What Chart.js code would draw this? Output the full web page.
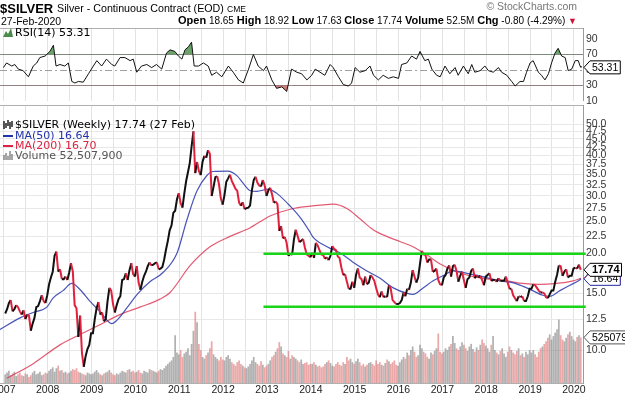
<!DOCTYPE html>
<html><head><meta charset="utf-8">
<script src="https://cdn.jsdelivr.net/npm/chart.js@4.4.1/dist/chart.umd.min.js"></script>
<style>
html,body{margin:0;padding:0;background:#fff}
body{width:625px;height:397px;position:relative;overflow:hidden;font-family:"Liberation Sans",Arial,sans-serif;color:#000}
canvas{position:absolute;left:0;top:0}
.t{position:absolute;white-space:nowrap;line-height:1}
.lg{position:absolute;left:3px;font-family:"DejaVu Sans",sans-serif;font-size:11px;white-space:nowrap;line-height:11px}
.lg svg{vertical-align:-1px;margin-right:2px}
</style></head><body>
<canvas id="rsi" width="625" height="110"></canvas>
<canvas id="price" width="625" height="397"></canvas>
<div class="t" style="left:0px;top:2px;font-size:13px;font-weight:bold">$SILVER</div>
<div class="t" style="left:57px;top:3px;font-size:10.7px">Silver - Continuous Contract (EOD)</div>
<div class="t" style="left:227px;top:5px;font-size:8.5px">CME</div>
<div class="t" style="right:48px;top:1px;font-size:10.5px;color:#777">© StockCharts.com</div>
<div class="t" style="left:1px;top:16px;font-size:10.5px">27-Feb-2020</div>
<div class="t" style="right:48px;top:15px;font-size:10px"><b style="font-size:11px">Open</b> 18.65 <b style="font-size:11px">High</b> 18.92 <b style="font-size:11px">Low</b> 17.63 <b style="font-size:11px">Close</b> 17.74 <b style="font-size:11px">Volume</b> 52.5M <b style="font-size:11px">Chg</b> -0.80 (-4.29%) <span style="color:#d01030;font-size:9px">▼</span></div>
<div class="lg" style="top:27px"><svg width="10" height="9"><path d="M0 9 L3 3 L5 6 L8 0 L10 9 Z" fill="#4a8a4a"/></svg>RSI(14) 53.31</div>
<div class="lg" style="top:119px"><svg width="10" height="9"><path d="M1 1V9M3 3V8M5 0V6M7 2V9M9 1V7" stroke="#000" stroke-width="1.3"/></svg>$SILVER (Weekly) 17.74 (27 Feb)</div>
<div class="lg" style="top:130px;color:#2233aa"><svg width="10" height="9"><path d="M0 5H10" stroke="#2233aa" stroke-width="2"/></svg>MA(50) 16.64</div>
<div class="lg" style="top:140px;color:#dd2244"><svg width="10" height="9"><path d="M0 5H10" stroke="#dd2244" stroke-width="2"/></svg>MA(200) 16.70</div>
<div class="lg" style="top:150px;color:#555"><svg width="10" height="9"><path d="M1 4V9M3 2V9M5 5V9M7 0V9M9 3V9" stroke="#777" stroke-width="1.3"/></svg>Volume 52,507,900</div>
<script>
// ---- time axis ----
const xMin = 2006.912, xMax = 2020.207;
const yearLabels = [2007,2008,2009,2010,2011,2012,2013,2014,2015,2016,2017,2018,2019,2020];

// ---- weekly close, sampled twice a month (USD/oz) ----
const silver2007 = [13.0,13.4,14.0,14.3,13.2,13.4,13.8,13.6,13.2,12.9,13.3,12.5,12.9,12.8,11.5,12.1,12.6,13.6,13.7,14.2,14.8,14.2,14.0,14.8];
const silver2008 = [16.0,16.8,17.5,19.6,20.2,17.5,17.8,16.6,16.6,16.9,16.5,17.4,18.6,17.5,13.8,13.5,11.0,12.8,9.8,8.9,9.6,10.1,10.4,11.3];
const silver2009 = [11.3,12.5,13.5,14.1,12.9,13.1,12.3,12.5,14.2,15.6,15.3,13.9,13.1,13.8,14.4,14.7,16.5,16.6,17.3,16.5,17.7,18.6,17.2,16.9];
const silver2010 = [18.2,16.2,15.4,16.3,17.0,17.5,18.2,18.7,18.3,18.4,18.6,18.7,17.8,17.9,18.1,19.1,20.5,21.8,23.5,24.3,26.6,27.0,29.3,30.6];
const silver2011 = [28.5,27.6,30.5,33.3,35.5,37.9,42.7,47.5,35.3,38.2,35.8,34.8,38.3,39.9,39.4,41.5,40.5,30.0,32.0,34.3,34.5,32.6,29.5,28.2];
const silver2012 = [30.2,33.2,34.0,34.9,33.4,32.5,31.6,31.1,28.6,28.0,28.7,27.3,27.5,27.6,28.0,31.2,33.6,34.4,33.0,32.3,32.1,33.6,32.3,30.0];
const silver2013 = [31.2,31.8,30.4,28.6,28.8,28.3,23.4,24.2,22.2,22.4,21.5,19.6,19.9,19.7,22.0,23.6,22.6,21.6,21.8,22.1,20.8,19.8,19.6,19.4];
const silver2014 = [20.0,19.3,21.5,21.1,20.4,19.8,19.7,19.2,19.4,19.0,19.6,21.0,20.6,20.4,19.5,19.3,18.0,17.1,17.2,16.3,15.5,15.5,16.3,15.6];
const silver2015 = [17.1,17.9,16.8,16.6,15.9,16.9,16.0,16.2,17.1,16.8,16.4,15.6,14.9,14.6,15.2,14.6,14.7,14.6,15.9,15.5,14.3,14.1,13.9,13.9];
const silver2016 = [14.0,14.3,15.1,14.7,15.5,15.4,16.2,17.7,16.9,16.2,16.8,18.5,20.3,19.8,19.7,18.7,19.1,19.1,17.5,17.6,17.9,16.5,16.0,15.9];
const silver2017 = [16.8,17.1,17.9,18.3,16.9,18.2,18.4,17.6,16.3,17.0,17.5,16.5,15.6,16.6,16.8,17.6,17.9,16.7,17.1,16.8,17.0,16.5,15.9,16.9];
const silver2018 = [17.1,17.3,16.4,16.5,16.5,16.3,16.7,16.4,16.4,16.4,16.9,16.2,15.5,15.5,14.8,14.5,14.2,14.7,14.6,14.7,14.2,14.2,14.7,15.5];
const silver2019 = [15.5,16.0,15.9,15.6,15.3,15.1,15.1,15.0,14.6,14.5,14.9,15.3,15.3,16.3,17.1,18.3,18.2,17.0,17.5,17.8,16.8,17.0,17.0,17.9];
const silver2020 = [18.0,17.9,18.4,17.74];

// ---- volume (millions), same sampling ----
const vol2007 = [10,12,14,9,11,13,8,10,12,9,8,11,10,7,9,12,14,10,11,13,9,10,12,11];
const vol2008 = [14,16,18,13,17,20,14,15,12,13,11,12,14,16,15,17,13,12,11,10,9,12,11,10];
const vol2009 = [11,13,15,12,10,9,11,12,13,15,12,10,9,11,10,12,14,13,12,15,16,13,14,12];
const vol2010 = [13,15,12,11,14,13,12,16,15,14,13,12,14,16,15,17,20,22,24,26,30,55,35,33];
const vol2011 = [38,30,34,36,40,32,45,60,82,70,45,38,30,28,32,35,40,48,33,30,28,26,30,27];
const vol2012 = [26,30,32,28,24,22,20,24,26,22,20,18,17,19,22,26,30,24,22,20,25,21,18,20];
const vol2013 = [22,26,30,32,36,40,47,42,34,32,30,37,28,32,30,28,26,24,27,22,23,24,21,22];
const vol2014 = [22,24,21,19,20,18,19,22,24,26,23,20,19,22,24,21,20,24,22,30,26,28,24,22];
const vol2015 = [25,28,24,20,22,19,21,23,24,22,20,26,22,24,21,20,23,27,25,22,24,26,21,20];
const vol2016 = [24,27,30,28,35,32,38,42,36,30,32,44,40,36,34,30,28,35,33,37,40,57,36,34];
const vol2017 = [36,40,38,42,45,54,46,40,38,42,47,44,40,37,42,45,39,36,41,38,44,50,46,43];
const vol2018 = [40,36,44,54,38,35,33,37,40,34,30,36,42,38,35,33,37,40,32,34,30,36,33,38];
const vol2019 = [35,38,33,30,36,40,42,45,48,52,56,50,54,58,62,73,55,50,48,52,56,59,54,50];
const vol2020 = [48,53,55,52.5];

// ---- moving averages ----
const ma50Date  = [2006.91,2007.37,2007.67,2007.98,2008.12,2008.35,2008.55,2008.74,2008.96,2009.19,2009.46,2009.58,2009.8,2010.04,2010.33,2010.63,2010.95,2011.17,2011.4,2011.63,2011.77,2012.11,2012.32,2012.46,2012.61,2012.77,2013.03,2013.23,2013.53,2013.76,2013.99,2014.05,2014.37,2014.67,2014.97,2015.28,2015.58,2015.88,2016.2,2016.33,2016.56,2016.79,2017.01,2017.25,2017.56,2017.92,2018.31,2018.6,2018.83,2019.06,2019.29,2019.45,2019.68,2019.91,2020.13,2020.16];
const ma50Value = [11.6,12.6,13.1,13.6,14.5,15.3,16.1,15.4,14.2,13.2,12.1,12.4,13.5,14.9,16.3,17.4,20.0,25.2,31.0,34.7,35.7,35.8,34.6,32.8,31.2,31.0,31.5,30.5,27.9,25.7,23.1,22.4,20.9,20.0,18.7,17.6,16.7,15.6,15.0,14.9,15.6,16.4,17.0,17.6,17.3,16.9,16.4,16.2,15.8,15.3,14.8,14.7,15.3,15.9,16.5,16.64];
const ma200Date  = [2007.07,2007.67,2008.28,2008.74,2009.19,2009.65,2010.1,2010.56,2010.79,2011.25,2011.7,2012.16,2012.61,2013.07,2013.53,2013.99,2014.21,2014.51,2014.83,2015.12,2015.42,2015.73,2016.03,2016.33,2016.65,2016.95,2017.33,2017.7,2018.08,2018.47,2018.83,2019.22,2019.6,2019.98,2020.16];
const ma200Value = [8.2,9.1,10.4,11.2,12.0,12.9,13.6,14.4,15.1,18.3,20.9,22.5,23.9,26.0,27.3,27.9,28.1,28.3,27.4,25.5,23.6,22.5,21.7,20.9,19.7,18.5,17.5,16.9,16.6,16.4,16.1,16.0,16.1,16.4,16.70];

// ---- RSI(14) ----
const rsiDate = [2006.99,2007.06,2007.18,2007.25,2007.33,2007.44,2007.56,2007.67,2007.75,2007.82,2007.94,2008.05,2008.13,2008.19,2008.28,2008.39,2008.47,2008.55,2008.62,2008.70,2008.81,2008.93,2009.04,2009.12,2009.23,2009.34,2009.46,2009.53,2009.65,2009.76,2009.88,2009.95,2010.03,2010.14,2010.26,2010.37,2010.48,2010.60,2010.71,2010.79,2010.90,2010.98,2011.06,2011.13,2011.21,2011.28,2011.34,2011.44,2011.55,2011.66,2011.74,2011.85,2011.97,2012.12,2012.23,2012.35,2012.46,2012.58,2012.69,2012.80,2012.92,2012.99,2013.11,2013.22,2013.34,2013.45,2013.56,2013.68,2013.79,2013.91,2014.02,2014.10,2014.21,2014.32,2014.44,2014.51,2014.63,2014.74,2014.86,2014.93,2015.01,2015.12,2015.24,2015.35,2015.43,2015.54,2015.65,2015.77,2015.88,2016.00,2016.07,2016.19,2016.30,2016.41,2016.49,2016.60,2016.68,2016.76,2016.87,2016.95,2017.06,2017.17,2017.29,2017.36,2017.48,2017.59,2017.67,2017.74,2017.86,2017.97,2018.05,2018.16,2018.28,2018.35,2018.47,2018.58,2018.66,2018.77,2018.85,2018.92,2019.00,2019.07,2019.19,2019.26,2019.34,2019.42,2019.49,2019.57,2019.64,2019.72,2019.80,2019.87,2019.95,2020.03,2020.10,2020.14,2020.16];
const rsiValue = [53,59,55,57,51,49,41,55,59,66,68,74,82,55,57,55,59,35,33,35,34,45,55,62,55,64,57,55,66,66,62,64,47,55,57,53,57,51,72,76,74,68,64,76,80,86,55,55,59,55,43,47,41,55,47,37,33,51,70,55,49,55,37,26,28,22,51,47,45,37,43,51,47,43,57,53,41,31,29,33,53,47,49,55,43,37,43,39,41,39,57,59,68,64,74,62,64,51,43,41,55,45,53,43,55,45,57,47,49,55,49,47,53,47,43,35,29,35,35,47,59,62,47,43,37,45,59,72,78,68,66,49,51,62,62,55,53.31];

// ---- support / resistance ----
const channelStart = 2012.92, channelEnd = 2020.27;
const resistance = 19.9, support = 13.65;

// ---- tick labels ----
const priceTicks = [10,12.5,15,17.5,20,22.5,25,27.5,30,32.5,35,37.5,40,42.5,45,47.5,50];
const rsiTicks = [10,30,50,70,90];

// ---- build tables ----
const priceByYear = [silver2007,silver2008,silver2009,silver2010,silver2011,silver2012,silver2013,silver2014,silver2015,silver2016,silver2017,silver2018,silver2019,silver2020];
const volByYear = [vol2007,vol2008,vol2009,vol2010,vol2011,vol2012,vol2013,vol2014,vol2015,vol2016,vol2017,vol2018,vol2019,vol2020];
const pricePts = [], volPts = [], volColors = [];
priceByYear.forEach((arr, k) => {
  arr.forEach((v, i) => {
    const x = yearLabels[k] + (i + 0.75) / 24;
    pricePts.push({x, y: v});
    volPts.push({x, y: volByYear[k][i]});
  });
});
for (let i = 0; i < pricePts.length; i++) {
  const up = i === 0 || pricePts[i].y >= pricePts[i-1].y;
  volColors.push(up ? 'rgba(140,140,140,0.68)' : 'rgba(222,115,115,0.62)');
}
const ma50Pts = ma50Date.map((d,i)=>({x:d,y:ma50Value[i]}));
const ma200Pts = ma200Date.map((d,i)=>({x:d,y:ma200Value[i]}));
const rsiPts = rsiDate.map((d,i)=>({x:d,y:rsiValue[i]}));

const halfYears = [];
for (let y = 2007; y <= 2020; y += 0.5) halfYears.push(y);

const FONT = '"Liberation Sans", Arial, sans-serif';

function xScale() {
  return {
    type: 'linear', min: xMin, max: xMax, offset: false,
    afterBuildTicks: s => { s.ticks = halfYears.map(v => ({value: v})); },
    afterFit: s => { s.height = 0; },
    ticks: {display: false},
    grid: {color: '#e3e3e3', drawTicks: false, lineWidth: 1, offset: false},
    border: {display: false}
  };
}

function drawTag(ctx, x, y, text, border, bold) {
  ctx.save();
  ctx.font = (bold ? 'bold 11px ' : '10.5px ') + FONT;
  const tw = ctx.measureText(text).width;
  const h = 13, p = 6;
  ctx.beginPath();
  ctx.moveTo(x + 1, y);
  ctx.lineTo(x + 1 + p, y - h/2);
  ctx.lineTo(x + 1 + p + tw + 4, y - h/2);
  ctx.lineTo(x + 1 + p + tw + 4, y + h/2);
  ctx.lineTo(x + 1 + p, y + h/2);
  ctx.closePath();
  ctx.fillStyle = '#fff'; ctx.fill();
  ctx.lineWidth = 1; ctx.strokeStyle = border; ctx.stroke();
  ctx.fillStyle = '#000'; ctx.textBaseline = 'middle'; ctx.textAlign = 'left';
  ctx.fillText(text, x + 1 + p + 2, y + 0.5);
  ctx.restore();
}

// ---- RSI chart ----
const rsiExtras = {
  id: 'rsiExtras',
  beforeDatasetsDraw(chart) {
    const {ctx, chartArea: a, scales: {y}} = chart;
    ctx.save();
    ctx.strokeStyle = '#8a8a8a'; ctx.lineWidth = 1;
    [30, 70].forEach(v => {
      const py = Math.round(y.getPixelForValue(v)) + 0.5;
      ctx.beginPath(); ctx.moveTo(a.left, py); ctx.lineTo(a.right, py); ctx.stroke();
    });
    ctx.strokeStyle = '#a0a0a0'; ctx.setLineDash([7,3,2,3]);
    const p50 = Math.round(y.getPixelForValue(50)) + 0.5;
    ctx.beginPath(); ctx.moveTo(a.left, p50); ctx.lineTo(a.right, p50); ctx.stroke();
    ctx.setLineDash([]);
    ctx.strokeStyle = '#b0b0b0';
    ctx.beginPath(); ctx.moveTo(a.left, a.top + 0.5); ctx.lineTo(a.right, a.top + 0.5); ctx.stroke();
    ctx.restore();
  },
  afterDraw(chart) {
    const {ctx, chartArea: a, scales: {y}} = chart;
    drawTag(ctx, a.right, y.getPixelForValue(rsiValue[rsiValue.length-1]), '53.31', '#000', false);
  }
};

new Chart(document.getElementById('rsi'), {
  type: 'line',
  data: {datasets: [
    {data: rsiPts, borderColor: '#111', borderWidth: 1, pointRadius: 0, tension: 0,
     fill: {target: {value: 70}, above: 'rgba(70,140,70,0.8)', below: 'rgba(0,0,0,0)'}},
    {data: rsiPts, borderColor: 'rgba(0,0,0,0)', borderWidth: 0, pointRadius: 0, tension: 0,
     fill: {target: {value: 30}, above: 'rgba(0,0,0,0)', below: 'rgba(190,90,90,0.8)'}}
  ]},
  options: {
    responsive: false, animation: false, events: [], devicePixelRatio: 1,
    layout: {padding: {top: 28, bottom: 4.6, left: 0, right: 0}},
    plugins: {legend: {display: false}, tooltip: {enabled: false}},
    scales: {
      x: xScale(),
      y: {
        type: 'linear', position: 'right', min: 10, max: 104.4,
        afterBuildTicks: s => { s.ticks = rsiTicks.map(v => ({value: v})); },
        afterFit: s => { s.width = 42; },
        ticks: {autoSkip: false, padding: 3, color: '#333', font: {family: FONT, size: 10.5}},
        grid: {display: false, drawTicks: false},
        border: {display: true, color: '#9a9a9a'}
      }
    }
  },
  plugins: [rsiExtras]
});

// ---- price chart ----
const priceExtras = {
  id: 'priceExtras',
  beforeDatasetsDraw(chart) {
    const {ctx, chartArea: a} = chart;
    ctx.save();
    ctx.strokeStyle = '#b0b0b0'; ctx.lineWidth = 1;
    ctx.beginPath(); ctx.moveTo(a.left, a.top + 0.5); ctx.lineTo(a.right, a.top + 0.5); ctx.stroke();
    ctx.beginPath(); ctx.moveTo(a.left, a.bottom + 0.5); ctx.lineTo(a.right, a.bottom + 0.5); ctx.stroke();
    ctx.restore();
  },
  afterDraw(chart) {
    const {ctx, chartArea: a, scales: {x, y, yVol}} = chart;
    ctx.save();
    ctx.font = '10.5px ' + FONT; ctx.fillStyle = '#222';
    ctx.textAlign = 'center'; ctx.textBaseline = 'middle';
    yearLabels.forEach(yr => ctx.fillText(String(yr), x.getPixelForValue(yr), a.bottom + 7));
    ctx.restore();
    drawTag(ctx, a.right, y.getPixelForValue(ma200Value[ma200Value.length-1]), '16.70', '#dd2244', false);
    drawTag(ctx, a.right, y.getPixelForValue(ma50Value[ma50Value.length-1]), '16.64', '#2233aa', false);
    drawTag(ctx, a.right, y.getPixelForValue(silver2020[silver2020.length-1]), '17.74', '#000', true);
    drawTag(ctx, a.right, yVol.getPixelForValue(vol2020[vol2020.length-1]), '52507900', '#555', false);
  }
};

new Chart(document.getElementById('price'), {
  type: 'line',
  data: {datasets: [
    {type: 'line', data: [{x: channelStart, y: resistance}, {x: channelEnd, y: resistance}], borderColor: '#19d419', borderWidth: 2.5, pointRadius: 0, order: 0, clip: 5},
    {type: 'line', data: [{x: channelStart, y: support}, {x: channelEnd, y: support}], borderColor: '#19d419', borderWidth: 2.5, pointRadius: 0, order: 0, clip: 5},
    {type: 'line', data: pricePts, borderWidth: 2, pointRadius: 0, tension: 0, order: 1,
     borderColor: '#111',
     segment: {borderColor: c => c.p1.parsed.y >= c.p0.parsed.y ? '#111' : '#e0203c'}},
    {type: 'line', data: ma50Pts, borderColor: 'rgba(40,55,170,0.85)', borderWidth: 1.2, pointRadius: 0, cubicInterpolationMode: 'monotone', order: 2},
    {type: 'line', data: ma200Pts, borderColor: 'rgba(220,50,80,0.8)', borderWidth: 1.2, pointRadius: 0, cubicInterpolationMode: 'monotone', order: 3},
    {type: 'bar', data: volPts, yAxisID: 'yVol', backgroundColor: volColors, borderWidth: 0, categoryPercentage: 1, barPercentage: 0.95, order: 10}
  ]},
  options: {
    responsive: false, animation: false, events: [], devicePixelRatio: 1,
    layout: {padding: {top: 105, bottom: 14, left: 0, right: 0}},
    plugins: {legend: {display: false}, tooltip: {enabled: false}},
    scales: {
      x: xScale(),
      y: {
        type: 'logarithmic', position: 'right', min: 7.93, max: 57.3,
        afterBuildTicks: s => { s.ticks = priceTicks.map(v => ({value: v})); },
        afterFit: s => { s.width = 42; },
        ticks: {autoSkip: false, padding: 3, color: '#333', font: {family: FONT, size: 10.5},
                callback: v => Number(v).toFixed(1)},
        grid: {color: '#e8e8e8', drawTicks: false},
        border: {display: true, color: '#9a9a9a'}
      },
      yVol: {type: 'linear', display: false, min: 0, max: 320, position: 'left'}
    }
  },
  plugins: [priceExtras]
});
</script>
</body></html>
